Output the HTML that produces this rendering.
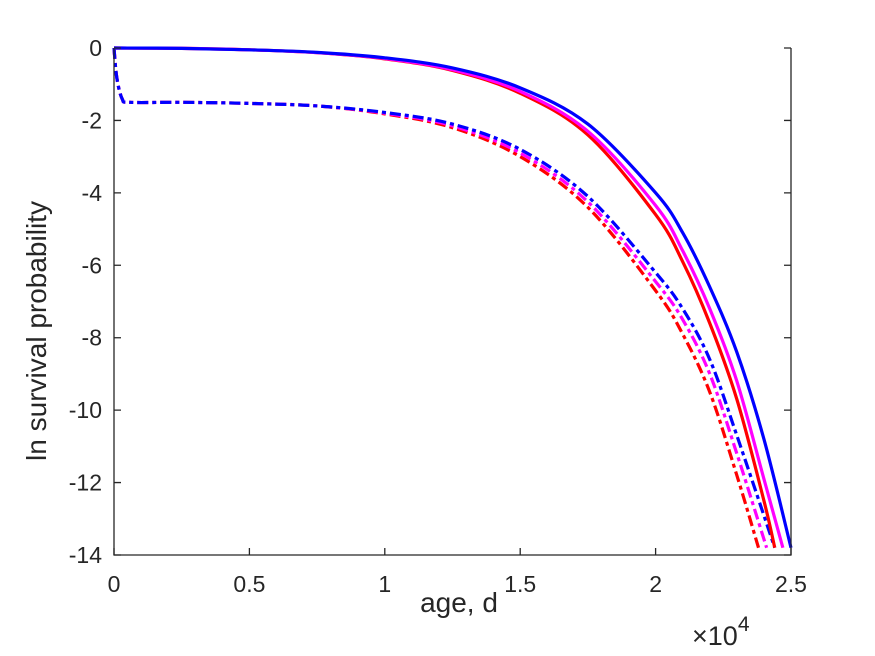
<!DOCTYPE html>
<html><head><meta charset="utf-8"><style>
body{margin:0;background:#fff}
svg{display:block;font-family:"Liberation Sans",sans-serif}
</style></head><body>
<svg width="875" height="656">
<rect width="875" height="656" fill="#fff"/>
<g id="plot"></g>
<g id="axes"></g>
</svg>
<script>
const xTicks=[0,0.5,1,1.5,2,2.5];
const xTickLabels=["0","0.5","1","1.5","2","2.5"];
const yTicks=[0,-2,-4,-6,-8,-10,-12,-14];
const yTickLabels=["0","-2","-4","-6","-8","-10","-12","-14"];
const tSolid=[0,0.25,0.5,0.75,1,1.25,1.5,1.75,2,2.1,2.2,2.3,2.4];
const blueSolid=[0,-0.01,-0.05,-0.12,-0.27,-0.55,-1.1,-2.1,-4.0,-5.1,-6.6,-8.4,-10.8];
const blueSolidEnd=[2.5,-13.8];
const magSolid=[0,-0.01,-0.05,-0.13,-0.29,-0.6,-1.2,-2.3,-4.35,-5.6,-7.2,-9.2,-11.9];
const magSolidEnd=[2.47,-13.8];
const redSolid=[0,-0.01,-0.05,-0.13,-0.3,-0.62,-1.25,-2.4,-4.6,-5.9,-7.6,-9.7,-12.5];
const redSolidEnd=[2.44,-13.8];
const tDash=[0,0.01,0.03,0.06,0.25,0.5,0.75,1,1.25,1.5,1.75,2,2.1,2.2,2.3];
const blueDash=[0,-0.8,-1.4,-1.5,-1.5,-1.53,-1.6,-1.78,-2.1,-2.8,-4.1,-6.2,-7.2,-8.6,-10.7];
const blueDashEnd=[2.44,-13.8];
const magDash=[0,-0.8,-1.4,-1.5,-1.5,-1.53,-1.6,-1.8,-2.15,-2.9,-4.25,-6.45,-7.5,-9.0,-11.2];
const magDashEnd=[2.41,-13.8];
const redDash=[0,-0.8,-1.4,-1.5,-1.5,-1.53,-1.6,-1.82,-2.2,-3.0,-4.4,-6.7,-7.9,-9.5,-11.8];
const redDashEnd=[2.38,-13.8];

const X0=114,X1=791,Y0=48,Y1=555;
const sx=v=>X0+(v-0)/(2.5-0)*(X1-X0);
const sy=v=>Y0+(0-v)/(14)*(Y1-Y0);
const NS="http://www.w3.org/2000/svg";
const plot=document.getElementById('plot'),axes=document.getElementById('axes');
function mk(tag,attrs,parent){const e=document.createElementNS(NS,tag);for(const k in attrs)e.setAttribute(k,attrs[k]);parent.appendChild(e);return e;}
function smoothPath(P){
  let d=`M${P[0][0]},${P[0][1]}`;
  for(let i=0;i<P.length-1;i++){
    const p0=P[Math.max(0,i-1)],p1=P[i],p2=P[i+1],p3=P[Math.min(P.length-1,i+2)];
    const c1=[p1[0]+(p2[0]-p0[0])/6,p1[1]+(p2[1]-p0[1])/6];
    const c2=[p2[0]-(p3[0]-p1[0])/6,p2[1]-(p3[1]-p1[1])/6];
    d+=` C${c1[0]},${c1[1]} ${c2[0]},${c2[1]} ${p2[0]},${p2[1]}`;
  }
  return d;
}
function line(ts,ys,end,color,dashed,name){
  let P=ts.map((t,i)=>[sx(t),sy(ys[i])]);P.push([sx(end[0]),sy(end[1])]);
  const p=mk('path',{d:smoothPath(P),fill:'none',stroke:color,'stroke-width':3.2,'stroke-linejoin':'round'},plot);
  if(dashed)p.setAttribute('stroke-dasharray','11 4 4 4');
  
  
}
line(tDash,redDash,redDashEnd,'#ff0000',true,'red-dashed-series');
line(tDash,magDash,magDashEnd,'#ff00ff',true,'magenta-dashed-series');
line(tDash,blueDash,blueDashEnd,'#0000ff',true,'blue-dashed-series');
line(tSolid,redSolid,redSolidEnd,'#ff0000',false,'red-solid-series');
line(tSolid,magSolid,magSolidEnd,'#ff00ff',false,'magenta-solid-series');
line(tSolid,blueSolid,blueSolidEnd,'#0000ff',false,'blue-solid-series');

const ac='#262626';
const box=mk('path',{d:`M${X0},${Y0}V${Y1}H${X1}V${Y0}`,fill:'none',stroke:ac,'stroke-width':1.3},axes);


xTicks.forEach((v,i)=>{
  const x=sx(v);
  mk('path',{d:`M${x},${Y1}v-7`,stroke:ac,'stroke-width':1.3},axes);
  const t=mk('text',{x:x,y:Y1+37,'text-anchor':'middle','font-size':23,fill:ac},axes);
  t.textContent=xTickLabels[i];
  
  
});
yTicks.forEach((v,i)=>{
  const y=sy(v);
  mk('path',{d:`M${X0},${y}h7M${X1},${y}h-7`,stroke:ac,'stroke-width':1.3},axes);
  const t=mk('text',{x:X0-12,y:y+8,'text-anchor':'end','font-size':23,fill:ac},axes);
  t.textContent=yTickLabels[i];
  
  
});
const xl=mk('text',{x:459,y:612,'text-anchor':'middle','font-size':28,fill:ac},axes);
xl.textContent='age, d';


const yl=mk('text',{x:0,y:0,'text-anchor':'middle','font-size':28,fill:ac,transform:`translate(46,331) rotate(-90)`},axes);
yl.textContent='ln survival probability';


const ex=mk('text',{x:692,y:645,'font-size':27,fill:ac},axes);
ex.innerHTML='×10<tspan dy="-14" font-size="21">4</tspan>';


</script>
</body></html>
